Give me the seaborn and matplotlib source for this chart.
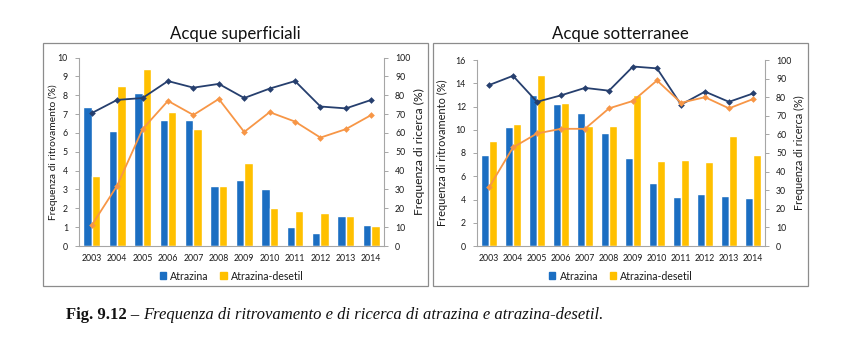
import numpy as np
import pandas as pd
import matplotlib
matplotlib.use("Agg")
import matplotlib.pyplot as plt
from matplotlib.patches import Rectangle
import seaborn as sns

sns.set_theme(style="white")
plt.rcParams["font.family"] = ["Lato", "DejaVu Sans"]

anni = ["2003", "2004", "2005", "2006", "2007", "2008",
        "2009", "2010", "2011", "2012", "2013", "2014"]
serie = ["Atrazina", "Atrazina-desetil"]

# Acque superficiali
sup_atrazina = [7.4, 6.1, 8.1, 6.7, 6.7, 3.2, 3.5, 3.0, 1.0, 0.7, 1.6, 1.1]
sup_desetil = [3.7, 8.5, 9.4, 7.1, 6.2, 3.2, 4.4, 2.0, 1.85, 1.75, 1.6, 1.05]
sup_ricerca_atrazina = [70.5, 77.5, 78.5, 87.5, 84, 86, 78.5, 83.5, 87.5, 74, 73, 77.5]
sup_ricerca_desetil = [11, 32, 62, 77, 69.5, 78, 60.5, 71, 66, 57.5, 62, 69.5]

# Acque sotterranee
sot_atrazina = [7.8, 10.2, 13.0, 12.2, 11.4, 9.7, 7.6, 5.4, 4.25, 4.5, 4.3, 4.1]
sot_desetil = [9.0, 10.5, 14.7, 12.3, 10.3, 10.3, 13.0, 7.3, 7.4, 7.2, 9.5, 7.85]
sot_ricerca_atrazina = [86.5, 91.5, 77.5, 81, 85, 83.5, 96.5, 95.5, 76, 83, 77.5, 82]
sot_ricerca_desetil = [31.5, 53, 60.5, 63, 63, 74, 78, 89, 77, 80, 74, 79]

COL_BLU = "#1B6EC2"
COL_GIALLO = "#FFC000"
COL_NAVY = "#263F6E"
COL_ARANCIO = "#F79646"
COL_ASSE = "#A6A6A6"
COL_TESTO = "#1a1a1a"

W, H = 849, 339
fig = plt.figure(figsize=(W / 100, H / 100), dpi=100)
fig.patch.set_facecolor("white")


def fx(px):
    return px / W


def fy(py):
    return 1 - py / H


def pannello(box, area, titolo, atr, des, r_atr, r_des, ymax, ystep,
             lab_sx, lab_dx):
    # cornice del pannello
    x0, y0, x1, y1 = box
    fig.add_artist(Rectangle((fx(x0), fy(y1)), fx(x1 - x0), (y1 - y0) / H,
                             transform=fig.transFigure, fill=False,
                             edgecolor="#8C8C8C", linewidth=0.9))
    fig.text(fx((x0 + x1) / 2), fy(34), titolo, ha="center", va="center",
             fontsize=12.1, color="#111111")

    l, t, r, b = area
    ax = fig.add_axes([fx(l), fy(b), fx(r - l), (b - t) / H])
    df = pd.DataFrame({
        "anno": anni * 2,
        "valore": atr + des,
        "serie": [serie[0]] * len(anni) + [serie[1]] * len(anni),
    })
    sns.barplot(data=df, x="anno", y="valore", hue="serie", order=anni,
                hue_order=serie, palette=[COL_BLU, COL_GIALLO], width=0.66,
                gap=0.0, saturation=1, ax=ax, legend=False)
    ax.set_xlim(-0.5, len(anni) - 0.5)
    ax.set_ylim(0, ymax)
    ax.set_yticks(np.arange(0, ymax + 0.01, ystep))
    ax.set_xlabel("")
    ax.set_ylabel("Frequenza di ritrovamento (%)", fontsize=lab_sx[1],
                  color=COL_TESTO, va="center")
    ax.yaxis.set_label_coords((lab_sx[0] - l) / (r - l), 0.5)
    ax.set_xticks(range(len(anni)))
    ax.set_xticks(np.arange(-0.5, len(anni), 1), minor=True)
    ax.tick_params(axis="x", which="major", length=0, labelsize=6.3,
                   colors=COL_TESTO, pad=6)
    ax.tick_params(axis="x", which="minor", length=3, color=COL_ASSE,
                   direction="out", width=0.7)
    ax.tick_params(axis="y", length=3, color=COL_ASSE, labelsize=6.3,
                   labelcolor=COL_TESTO, direction="out", width=0.7, pad=5)
    for lato in ("top", "right"):
        ax.spines[lato].set_visible(False)
    for lato in ("left", "bottom"):
        ax.spines[lato].set_color(COL_ASSE)
        ax.spines[lato].set_linewidth(0.8)
    ax.set_facecolor("none")

    ax2 = ax.twinx()
    pos = np.arange(len(anni))
    sns.lineplot(x=pos, y=r_atr, color=COL_NAVY, marker="D", markersize=3.4,
                 markeredgewidth=0, linewidth=1.3, ax=ax2)
    sns.lineplot(x=pos, y=r_des, color=COL_ARANCIO, marker="D", markersize=3.4,
                 markeredgewidth=0, linewidth=1.3, ax=ax2)
    ax2.set_xlim(-0.5, len(anni) - 0.5)
    ax2.set_ylim(0, 100)
    ax2.set_yticks(np.arange(0, 101, 10))
    ax2.set_ylabel("Frequenza di ricerca (%)", fontsize=lab_dx[1],
                   color=COL_TESTO, rotation=90, va="center")
    ax2.yaxis.set_label_coords((lab_dx[0] - l) / (r - l), 0.5)
    ax2.tick_params(axis="y", length=3, color=COL_ASSE, labelsize=6.3,
                    labelcolor=COL_TESTO, direction="out", width=0.7, pad=5)
    for lato in ("top", "left", "bottom"):
        ax2.spines[lato].set_visible(False)
    ax2.spines["right"].set_color(COL_ASSE)
    ax2.spines["right"].set_linewidth(0.8)

    maniglie = [Rectangle((0, 0), 1, 1, color=COL_BLU),
                Rectangle((0, 0), 1, 1, color=COL_GIALLO)]
    fig.legend(maniglie, serie, loc="center", ncol=2, frameon=False,
               bbox_to_anchor=(fx((l + r) / 2), fy(276)), fontsize=7.6,
               handlelength=0.6, handleheight=0.6, handletextpad=0.4,
               columnspacing=1.1, labelcolor=COL_TESTO)


pannello((43, 43, 428, 286), (79, 57.5, 384, 246), "Acque superficiali",
         sup_atrazina, sup_desetil, sup_ricerca_atrazina, sup_ricerca_desetil,
         10, 1, (53, 7.4), (419, 8.7))
pannello((433, 43, 808, 286), (477, 60, 765, 246), "Acque sotterranee",
         sot_atrazina, sot_desetil, sot_ricerca_atrazina, sot_ricerca_desetil,
         16, 2, (442, 7.9), (799, 7.8))

# didascalia: parte in grassetto seguita dal testo in corsivo
grassetto = fig.text(fx(66), fy(315), "Fig. 9.12 \u2013", fontsize=12,
                     family="Liberation Serif", weight="bold", va="center",
                     ha="left", color="#111111")
fig.canvas.draw()
fine = grassetto.get_window_extent().x1
fig.text((fine + 4) / W, fy(315),
         "Frequenza di ritrovamento e di ricerca di atrazina e atrazina-desetil.",
         fontsize=12, family="Liberation Serif", style="italic",
         va="center", ha="left", color="#111111")

fig.savefig("out.png", dpi=100, facecolor="white")
